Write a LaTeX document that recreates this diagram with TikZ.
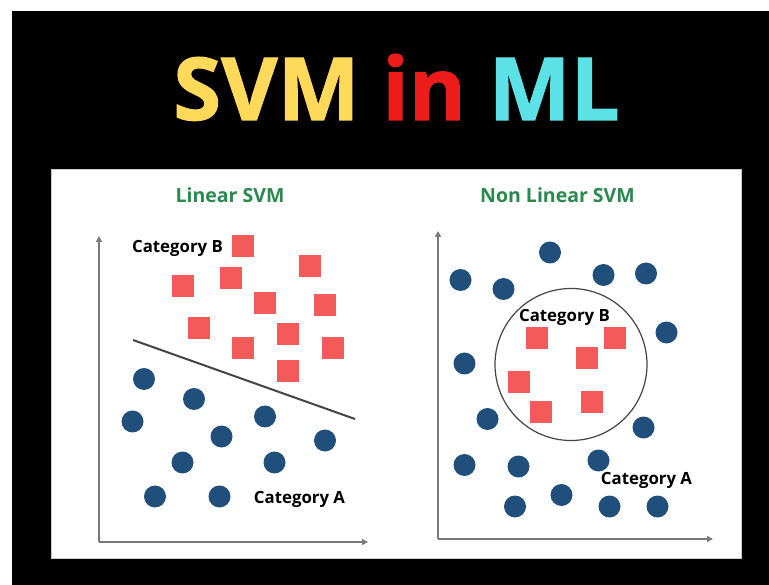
\documentclass[tikz,border=0pt]{standalone}
\usepackage{fontspec}
\setmainfont{Open Sans}
\newfontfamily\titlefont[BoldFeatures={FakeBold=1.2}]{Open Sans}
\usetikzlibrary{arrows.meta}
\definecolor{titleyellow}{HTML}{FFD95A}
\definecolor{titlered}{HTML}{EE1B1B}
\definecolor{titlecyan}{HTML}{5CE1E6}
\definecolor{headgreen}{HTML}{2A8A4E}
\definecolor{dotblue}{HTML}{1F4F7A}
\definecolor{boxred}{HTML}{F45A5A}
\definecolor{axisgray}{HTML}{7A7A7A}
\definecolor{linegray}{HTML}{444444}
\tikzset{
  dot/.style={circle, fill=dotblue, minimum size=22pt, inner sep=0pt},
  sq/.style={rectangle, fill=boxred, minimum size=22pt, inner sep=0pt},
  heading/.style={font=\bfseries\fontsize{19.5}{22}\selectfont, text=headgreen, inner sep=0pt},
  catlabel/.style={font=\bfseries\fontsize{16.8}{20}\selectfont, text=black, inner sep=0pt},
  axis/.style={draw=axisgray, line width=1.3pt, -{Triangle[length=6pt,width=6pt]}},
}
\begin{document}
\begin{tikzpicture}[x=1pt, y=-1pt]
% canvas
\useasboundingbox (0,0) rectangle (769,585);
\fill[white] (0,0) rectangle (769,585);
\fill[black] (12,11) rectangle (769,585);
% white panel
\fill[white] (51,169) rectangle (741,558);
\draw[gray!40, line width=0.6pt] (51,169) rectangle (741,558);

% title
\node[inner sep=0pt, anchor=base] (title) at (396.5,120)
  {\titlefont\fontsize{87}{96}\selectfont\bfseries
   \textcolor{titleyellow}{SVM} \textcolor{titlered}{in} \textcolor{titlecyan}{ML}};

% ---------- linear SVM ----------
\node[heading] (h1) at (230,195) {Linear SVM};
\coordinate (o1) at (99,542);
\coordinate (y1) at (99,236);
\coordinate (x1) at (368,542);
\draw[axis] (o1) -- (y1);
\draw[axis] (o1) -- (x1);
\coordinate (s1) at (133,340);
\coordinate (s2) at (355,419);
\draw[linegray, line width=2pt] (s1) -- (s2);

\foreach \n/\x/\y in {a/242.5/246, b/309.5/266, c/230.5/278, d/182.5/286,
  e/265/303, f/325/305.5, g/199/328, h/287.5/334, i/242.5/348,
  j/332.5/348, k/287.5/371}
  \node[sq] (L\n) at (\x,\y) {};

\foreach \n/\x/\y in {a/144/379, b/194/399, c/132.5/421.5, d/265/416.5,
  e/221.5/436.5, f/325/440.5, g/182.5/462.5, h/274.5/462.5,
  i/155/496.5, j/219.5/496.5}
  \node[dot] (C\n) at (\x,\y) {};

\node[catlabel] (catB1) at (177.5,248) {Category B};
\node[catlabel] (catA1) at (299.5,499) {Category A};

% ---------- non linear SVM ----------
\node[heading] (h2) at (557.5,195) {Non Linear SVM};
\coordinate (o2) at (438,539);
\coordinate (y2) at (438,231);
\coordinate (x2) at (713,539);
\draw[axis] (o2) -- (y2);
\draw[axis] (o2) -- (x2);

\node[circle, draw=linegray, line width=1.2pt, minimum size=152pt, inner sep=0pt] (ring) at (571,364.5) {};

\foreach \n/\x/\y in {a/536.5/338, b/615/338, c/586.5/358, d/518.5/382.5,
  e/591.5/402.5, f/541/412.5}
  \node[sq] (R\n) at (\x,\y) {};

\foreach \n/\x/\y in {a/550/252.5, b/460.5/280, c/503.5/289, d/603.5/275,
  e/646/273.5, f/666.5/332.5, g/464.5/363.5, h/487.5/419, i/643.5/427.5,
  j/464.5/465, k/518.5/466.5, l/598.5/460.5, m/515/506.5, n/561.5/495,
  o/609.5/506.5, p/657.5/506.5}
  \node[dot] (D\n) at (\x,\y) {};

\node[catlabel] (catB2) at (564.5,317) {Category B};
\node[catlabel] (catA2) at (646.5,480) {Category A};
\end{tikzpicture}
\end{document}
